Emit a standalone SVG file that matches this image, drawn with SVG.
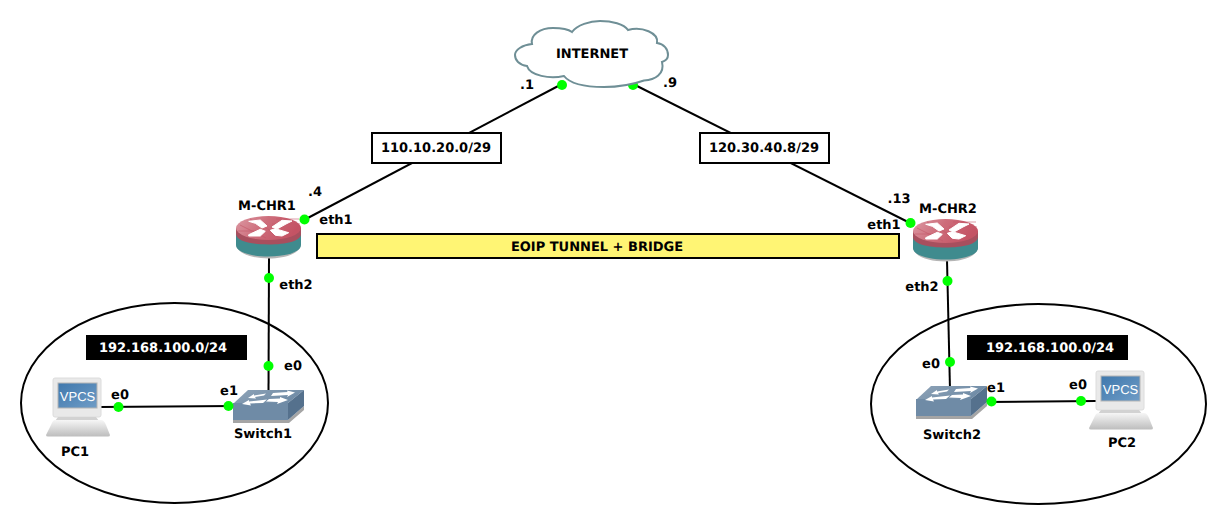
<svg xmlns="http://www.w3.org/2000/svg" width="1227" height="525" viewBox="0 0 1227 525">
<style>
text{font-family:"DejaVu Sans",sans-serif;font-weight:700;font-size:13px;fill:#000;text-anchor:middle;text-rendering:geometricPrecision}
.l{fill:none;stroke:#000;stroke-width:2}
.d{fill:#00ff00;stroke:none}
.b{fill:#fff;stroke:#000;stroke-width:2}
.w{fill:#fff}
.x{fill:#fff;stroke:#fff;stroke-width:1;stroke-linejoin:round}
.g{fill:none;stroke:#c25868;stroke-width:.6}
</style>
<defs>
<linearGradient id="rt" x1="0" y1="0" x2="1" y2="0.3"><stop offset="0" stop-color="#dc9aa4"/><stop offset="0.5" stop-color="#cd6c7a"/><stop offset="1" stop-color="#c45364"/></linearGradient>
<linearGradient id="sw" x1="0" y1="0" x2="1" y2="0.4"><stop offset="0" stop-color="#8ea3b7"/><stop offset="1" stop-color="#6f8ba6"/></linearGradient>
<linearGradient id="base" x1="0" y1="0" x2="0" y2="1"><stop offset="0" stop-color="#f6f6f6"/><stop offset="1" stop-color="#bdbdbd"/></linearGradient>
<linearGradient id="scr" x1="0" y1="0" x2="1" y2="1"><stop offset="0" stop-color="#3f78ad"/><stop offset="1" stop-color="#6f9cc6"/></linearGradient>
<g id="router">
<path d="M0 28C0 37 15 42.500 32.500 42.500S65 37 65 28Z" fill="#b5b5b5"/>
<path d="M0 14V29C0 36 15 40.500 32.500 40.500S65 36 65 29V14Z" fill="#3f8b8e"/>
<path d="M0 12V18C0 25 15 28.500 32.500 28.500S65 25 65 18V12Z" fill="#a84f5e"/>
<ellipse cx="32.500" cy="12" rx="32.500" ry="12" fill="url(#rt)"/>
<path class="g" d="M4 9L30 22M14 3L46 21M2 15H26M40 3H63M36 8H64"/>
<path class="x" d="M12.700 5.300L24.300 4L31 10L26 12L19.300 7.300ZM36 11L46 4.300L56 5L50 8L41 13ZM12.700 18.700L24.300 13.300L29.300 15.300L24.300 20L12.700 20ZM34.300 14.300L39.300 12.700L52.700 16.700L46 20L39.300 19.300Z"/>
</g>
<g id="switch">
<path d="M0 31H55L71 17V21L56 34H0Z" fill="#a5a5a5"/>
<path d="M1 14L15 1H71L55 14Z" fill="url(#sw)"/>
<rect x="0" y="14" width="55" height="17" fill="#6f8ba6"/>
<path d="M55 14L71 1V17L55 31Z" fill="#55718d"/>
<path class="w" d="M15 9L21 5L21 6.500L33 4.500L31 6.500L22 8L23 9.500ZM62 3.500L54 1.500L54.500 3L40 4L38 7L55 6L54 8ZM9 15L16 11L16 12.500L34 10.500L30 14L17 14.500L18 16.500ZM55 11L47 8L47 9.500L36 10L33 12.500L45 13L44 15Z"/>
</g>
<g id="vpcs">
<path d="M9 0H53Q55 0 55 2V37Q55 39 53 39H9Q7 39 7 37V2Q7 0 9 0Z" fill="#e9e9e9" stroke="#dcdcdc"/>
<rect x="12" y="5" width="39" height="25" fill="url(#scr)" stroke="#b5b5b5"/>
<text x="31.500" y="23" style="font-family:'Liberation Sans',sans-serif;font-weight:400;font-size:13px;fill:#fff">VPCS</text>
<path d="M12 39H50L53 43H9Z" fill="#d2d2d2"/>
<path d="M9 42H55Q58 42 60 47L64 57Q64 58.500 62 58.500H2Q0 58.500 0 57L5 47Q7 42 9 42Z" fill="url(#base)"/>
</g>
</defs>
<g id="connectors">
<path class="l" d="M304 220L562 84"/><path class="l" d="M633 84L910 223"/>
<path class="l" d="M269 255L268.500 392"/><path class="l" d="M947 260L950 390"/>
<path class="l" d="M100 407L234 406"/><path class="l" d="M988 402L1096 401"/>
</g>
<g id="network-left"><ellipse cx="174.500" cy="403" rx="153.500" ry="100" fill="none" stroke="#000" stroke-width="2"/></g>
<g id="network-right"><ellipse cx="1038.500" cy="404" rx="167.500" ry="100" fill="none" stroke="#000" stroke-width="2"/></g>
<g id="ports-cloud"><circle class="d" cx="562" cy="85" r="5"/><circle class="d" cx="633" cy="85" r="5"/></g>
<g id="internet">
<path d="M572 32C577 25 590 21 600 21C612 21 624 24 628 30C642 26 659 33 657 43C664 44 668 49 668 55C668 59 665 61 662 62C665 74 655 80 644 80.500C634 84 618 87 604 87C588 87 571 85 564 76C550 79 530 76 527 66C519 65 515 60 515 55C515 50 522 45 532 44C530 35 540 28 553 28C561 28 568 29 572 32Z" fill="#fff" stroke="#6f8f96" stroke-width="2"/>
<text x="592" y="58">INTERNET</text>
</g>
<g id="M-CHR1"><use href="#router" x="236" y="216"/><text x="267" y="210">M-CHR1</text></g>
<g id="M-CHR2"><use href="#router" x="913" y="219"/><text x="948" y="213">M-CHR2</text></g>
<g id="Switch1"><use href="#switch" x="233" y="389"/><text x="263" y="438">Switch1</text></g>
<g id="Switch2"><use href="#switch" x="916" y="385"/><text x="952" y="439">Switch2</text></g>
<g id="PC1"><use href="#vpcs" x="46" y="378"/><text x="75" y="456">PC1</text></g>
<g id="PC2"><use href="#vpcs" x="1089" y="371"/><text x="1122" y="447">PC2</text></g>
<g id="net1"><rect class="b" x="372" y="133" width="129" height="30"/><text x="436" y="152">110.10.20.0/29</text></g>
<g id="net2"><rect class="b" x="700" y="133" width="129" height="30"/><text x="764" y="152">120.30.40.8/29</text></g>
<g id="tunnel"><rect x="317" y="234" width="582" height="24" fill="#fff574" stroke="#000" stroke-width="2"/><text x="597" y="251">EOIP TUNNEL + BRIDGE</text></g>
<g id="lan1"><rect x="86" y="335" width="161" height="25" fill="#000"/><text x="163" y="352" style="fill:#fff">192.168.100.0/24</text></g>
<g id="lan2"><rect x="967" y="335" width="161" height="25" fill="#000"/><text x="1050" y="352" style="fill:#fff">192.168.100.0/24</text></g>
<g id="ports">
<circle class="d" cx="304.500" cy="219.500" r="5"/><circle class="d" cx="910.500" cy="223" r="5"/>
<circle class="d" cx="269" cy="278" r="5"/><circle class="d" cx="947.500" cy="281" r="5"/>
<circle class="d" cx="268.500" cy="366" r="5"/><circle class="d" cx="950" cy="362" r="5"/>
<circle class="d" cx="118.500" cy="407" r="5"/><circle class="d" cx="228.500" cy="406" r="5"/>
<circle class="d" cx="991.500" cy="401.500" r="5"/><circle class="d" cx="1081" cy="401" r="5"/>
</g>
<g id="labels">
<text x="527" y="89">.1</text><text x="670" y="87">.9</text>
<text x="315" y="196">.4</text><text x="899" y="203">.13</text>
<text x="336" y="224">eth1</text><text x="884" y="229">eth1</text>
<text x="296" y="289">eth2</text><text x="922" y="291">eth2</text>
<text x="293" y="370">e0</text><text x="931" y="368">e0</text>
<text x="120" y="399">e0</text><text x="229" y="395">e1</text>
<text x="996" y="392">e1</text><text x="1078" y="389">e0</text>
</g>
</svg>
